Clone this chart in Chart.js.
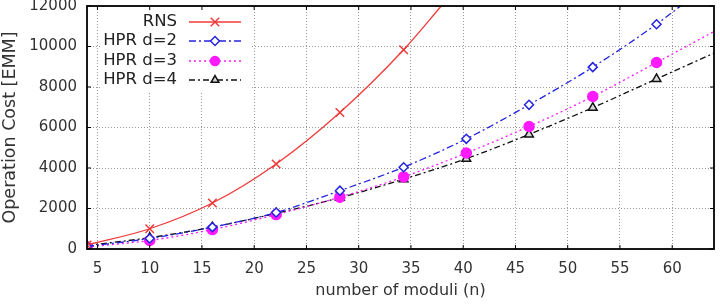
<!DOCTYPE html>
<html>
<head>
<meta charset="utf-8">
<script src="https://cdn.jsdelivr.net/npm/chart.js@4"></script>
<style>
  html, body { margin: 0; padding: 0; background: #fff; }
  #wrap { width: 720px; height: 305px; position: relative; }
</style>
</head>
<body>
<div id="wrap"><canvas id="costChart"></canvas></div>
<script>
// values
const moduliN = [4, 10, 16, 22.1, 28.2, 34.3, 40.3, 46.3, 52.4, 58.5];
const rnsCost = [200, 1000, 2270, 4200, 6740, 9840];
const hprD2Cost = [130, 520, 1080, 1800, 2880, 4040, 5440, 7120, 8980, 11100];
const hprD3Cost = [100, 420, 960, 1700, 2560, 3560, 4740, 6050, 7530, 9210];
const hprD4Cost = [170, 560, 1080, 1760, 2530, 3450, 4460, 5660, 6980, 8400];
// where each fitted curve leaves the plot (no marker there)
const rnsEnd = [37.9, 12000];
const hprD2End = [60.8, 12000];
const hprD3End = [64, 10740];
const hprD4End = [64, 9670];

const xTicks = [5, 10, 15, 20, 25, 30, 35, 40, 45, 50, 55, 60];
const yTicks = [0, 2000, 4000, 6000, 8000, 10000, 12000];

const FONT = '"DejaVu Sans", sans-serif';

function toPoints(vals, end) {
    const pts = vals.map((v, i) => ({ x: moduliN[i], y: v }));
    pts.push({ x: end[0], y: end[1] });
    return pts;
}

function makeSeries(label, vals, end, color, dash, style, fill, radius) {
    const n = vals.length;
    return {
        label,
        data: toPoints(vals, end),
        borderColor: color,
        backgroundColor: fill,
        borderWidth: 1.3,
        borderDash: dash,
        pointStyle: style,
        pointRadius: ctx => ctx.dataIndex < n ? radius : 0,
        pointBorderColor: color,
        pointBackgroundColor: fill,
        pointBorderWidth: 1.5,
        cubicInterpolationMode: 'monotone',
        fill: false,
        clip: 0
    };
}

const series = [
    makeSeries('RNS', rnsCost, rnsEnd, '#f03a3a', [], 'crossRot', '#f03a3a', 6),
    makeSeries('HPR d=2', hprD2Cost, hprD2End, '#2424e0', [7, 3, 2, 3], 'rectRot', '#ffffff', 4.5),
    makeSeries('HPR d=3', hprD3Cost, hprD3End, '#ff1aff', [2, 3], 'circle', '#ff1aff', 5),
    makeSeries('HPR d=4', hprD4Cost, hprD4End, '#111111', [6, 3, 2, 3], 'triangle', '#d8d8d8', 5)
];

// gnuplot-like frame, inward ticks and opaque key box
const framePlugin = {
    id: 'frame',
    afterDatasetsDraw(chart) {
        const { ctx, chartArea: a, scales } = chart;
        ctx.save();
        ctx.fillStyle = '#fff';
        ctx.fillRect(102, a.top + 1, 150, 86);
        const rows = [22, 41, 61, 80];
        ctx.font = '16.5px ' + FONT;
        ctx.textAlign = 'right';
        ctx.textBaseline = 'middle';
        series.forEach((s, i) => {
            const y = rows[i];
            ctx.fillStyle = '#222';
            ctx.fillText(s.label, 177, y);
            ctx.strokeStyle = s.borderColor;
            ctx.lineWidth = 1.3;
            ctx.setLineDash(s.borderDash);
            ctx.beginPath();
            ctx.moveTo(189, y);
            ctx.lineTo(241, y);
            ctx.stroke();
            ctx.setLineDash([]);
            ctx.lineWidth = 1.5;
            ctx.fillStyle = s.pointBackgroundColor;
            Chart.helpers.drawPoint(ctx, {
                pointStyle: s.pointStyle,
                radius: i === 0 ? 6 : 4.5,
                rotation: 0,
                borderWidth: 1.5
            }, 215, y);
        });
        ctx.strokeStyle = '#000';
        ctx.lineWidth = 1;
        ctx.beginPath();
        xTicks.forEach(v => {
            const px = scales.x.getPixelForValue(v);
            ctx.moveTo(px, a.bottom); ctx.lineTo(px, a.bottom - 4);
            ctx.moveTo(px, a.top); ctx.lineTo(px, a.top + 4);
        });
        yTicks.forEach(v => {
            const py = scales.y.getPixelForValue(v);
            ctx.moveTo(a.left, py); ctx.lineTo(a.left + 4, py);
            ctx.moveTo(a.right, py); ctx.lineTo(a.right - 4, py);
        });
        ctx.stroke();
        ctx.lineWidth = 1.8;
        ctx.strokeRect(a.left, a.top, a.right - a.left, a.bottom - a.top);
        ctx.restore();
    }
};

document.addEventListener('DOMContentLoaded', () => {
    const ctx = document.getElementById('costChart').getContext('2d');
    new Chart(ctx, {
        type: 'line',
        data: { datasets: series },
        options: {
            responsive: true,
            maintainAspectRatio: false,
            animation: false,
            layout: { autoPadding: false, padding: { left: 0, right: 6, top: 0, bottom: 0 } },
            plugins: {
                legend: { display: false },
                tooltip: { enabled: false }
            },
            scales: {
                x: {
                    type: 'linear',
                    min: 4,
                    max: 64,
                    afterBuildTicks: scale => { scale.ticks = xTicks.map(v => ({ value: v })); },
                    afterFit: scale => { scale.height = 56; },
                    grid: { color: '#9a9a9a', lineWidth: 1, drawTicks: false },
                    border: { display: false, dash: [1, 2] },
                    ticks: {
                        color: '#333', font: { family: FONT, size: 15 }, padding: 11, maxRotation: 0,
                        callback: v => String(v)
                    },
                    title: {
                        display: true,
                        text: 'number of moduli (n)',
                        color: '#333',
                        font: { family: FONT, size: 16 },
                        padding: { top: 0, bottom: 5 }
                    }
                },
                y: {
                    min: 0,
                    max: 12000,
                    afterBuildTicks: scale => { scale.ticks = yTicks.map(v => ({ value: v })); },
                    afterFit: scale => {
                        scale.width = 87;
                        scale.paddingTop = 6;
                        scale.paddingBottom = 0;
                    },
                    grid: { color: '#9a9a9a', lineWidth: 1, drawTicks: false },
                    border: { display: false, dash: [1, 2] },
                    ticks: {
                        color: '#333', font: { family: FONT, size: 15 }, padding: 10,
                        callback: v => String(v)
                    },
                    title: {
                        display: true,
                        text: 'Operation Cost [EMM]',
                        color: '#333',
                        font: { family: FONT, size: 17.5 },
                        padding: { top: 0, bottom: 0 }
                    }
                }
            }
        },
        plugins: [framePlugin]
    });
});
</script>
</body>
</html>
